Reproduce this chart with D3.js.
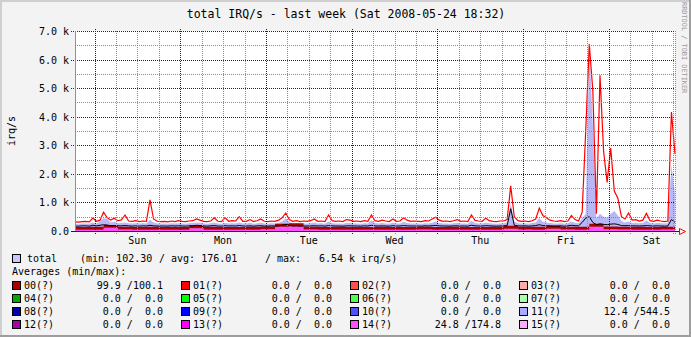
<!DOCTYPE html>
<html>
<head>
<meta charset="utf-8">
<script src="https://cdn.jsdelivr.net/npm/d3@7"></script>
<style>
  body { margin: 0; background: #f3f3f3; }
  svg { display: block; }
  text { font-family: "DejaVu Sans Mono", monospace; white-space: pre; }
</style>
</head>
<body>
<svg width="691" height="337"></svg>
<script>
// hourly samples, Sat 2008-05-17 18:32 .. Sat 2008-05-24 18:32 (169 values)
var totalMax = [
  320,310,330,340,320,450,340,380,660,470,380,450,360,390,560,350,340,360,330,350,340,1090,420,340,
  330,340,320,350,330,360,340,330,350,360,420,380,340,330,350,460,340,330,470,340,360,350,500,340,
  340,400,330,360,420,340,330,350,340,380,460,630,400,340,360,330,350,340,360,420,340,350,330,560,
  360,340,350,330,400,380,340,350,330,360,340,560,360,340,380,350,330,420,340,350,460,380,340,350,
  340,330,360,350,420,480,380,340,350,330,360,400,340,350,330,560,370,350,340,450,360,340,330,350,
  350,400,1580,500,360,340,350,330,360,420,800,540,460,380,350,340,360,330,350,540,400,350,650,3500,
  6540,4900,600,5450,2800,1700,2900,1400,1150,500,420,630,380,400,350,380,620,360,340,380,350,330,350,4160,2700
]
var totalArea = [
  250,240,260,260,250,300,270,330,450,430,300,320,270,280,300,270,260,270,260,270,260,390,300,260,
  260,260,250,270,260,270,260,250,270,280,300,290,260,250,270,300,260,250,290,260,270,260,300,260,
  260,290,250,270,290,260,250,270,260,280,330,450,320,260,270,250,260,260,270,300,260,270,250,330,
  270,260,260,250,280,280,260,260,250,270,260,380,280,260,280,260,250,290,260,260,320,280,260,260,
  260,250,270,260,290,330,280,260,260,250,270,280,260,260,250,360,280,260,260,300,270,260,250,260,
  270,300,990,330,270,260,270,250,280,300,450,320,300,280,260,260,270,250,270,330,290,270,450,600,
  6540,3700,450,600,500,450,600,700,550,350,300,330,280,290,270,280,380,280,260,280,270,260,270,2300,1300
]
var totalAvg = [
  170,170,180,180,170,200,180,200,220,210,180,190,180,180,190,180,170,180,170,180,175,200,180,175,
  175,175,170,180,175,180,175,170,180,180,200,190,175,170,180,190,175,170,185,175,180,175,190,175,
  175,180,170,180,185,175,170,180,175,180,200,230,200,175,180,170,175,175,180,185,175,180,170,190,
  180,175,175,170,180,180,175,175,170,180,175,200,180,175,180,175,170,185,175,175,190,180,175,175,
  175,170,180,175,185,195,180,175,175,170,180,180,175,175,170,200,180,175,175,185,180,175,170,175,
  180,190,780,200,180,175,180,170,180,190,220,190,185,180,175,175,180,170,180,200,185,180,300,450,
  500,300,220,250,230,220,240,250,230,190,185,190,180,180,175,180,190,180,175,180,175,170,175,400,300
]
// 4-hourly samples for the two bottom bands (43 values)
var irq14 = [40,45,110,50,40,45,40,40,100,45,40,40,45,60,150,170,50,40,45,40,40,45,40,40,50,40,45,40,40,45,80,50,45,80,50,45,150,60,50,45,40,50,100]
var irq00 = [100,100,99.9,100,100.1,100,100,99.9,100,100,100,100.1,100,100,99.9,100,100,100,100,100.1,100,100,99.9,100,100,100,100.1,100,100,100,99.9,100,100,100,100.1,100,100,99.9,100,100,100,100.1,100]

var irqNames = ['00','01','02','03','04','05','06','07','08','09','10','11','12','13','14','15']
var irqColors = ['#aa0000','#ff0000','#ff5050','#ffaaaa','#00aa00','#00ff00','#50ff50','#aaffaa',
                 '#0000aa','#0000ff','#5050ff','#aaaaff','#aa00aa','#ff00ff','#ff50ff','#ffaaff']
var irqMin = [99.9,0,0,0,0,0,0,0,0,0,0,12.4,0,0,24.8,0]
var irqMax = [100.1,0,0,0,0,0,0,0,0,0,0,544.5,0,0,174.8,0]

var yMajor = [0,1000,2000,3000,4000,5000,6000,7000]
var yMinor = [500,1500,2500,3500,4500,5500,6500]

var start = new Date(2008, 4, 17, 18, 32)
var end = new Date(2008, 4, 24, 18, 32)
var hour = 3600 * 1000

var svg = d3.select('svg')
var W = 691, H = 337

// frame
svg.append('rect').attr('width', W).attr('height', H).attr('fill', '#f3f3f3')
svg.append('path').attr('d', 'M0,0H691V2H2V337H0Z').attr('fill', '#cfcfcf')
svg.append('path').attr('d', 'M691,0V337H0V335H689V0Z').attr('fill', '#9e9e9e')

var x = d3.scaleTime().domain([start, end]).range([75, 675])
var y = d3.scaleLinear().domain([0, 7000]).range([231, 31])

svg.append('rect')
    .attr('x', 75).attr('y', 31)
    .attr('width', 600).attr('height', 200)
    .attr('fill', 'white')

var hourly = function(d, i){ return new Date(+start + i * hour) }
var fourly = function(d, i){ return new Date(+start + i * 4 * hour) }

// total area
svg.append('path')
    .datum(totalArea)
    .attr('fill', '#b8b8f6')
    .attr('d', d3.area()
        .x(function(d, i){ return x(hourly(d, i)) })
        .y0(y(0))
        .y1(function(d){ return y(d) }))

// bottom bands
svg.append('path')
    .datum(irq14)
    .attr('fill', '#ff50ff')
    .attr('d', d3.area().curve(d3.curveStepAfter)
        .x(function(d, i){ return x(fourly(d, i)) })
        .y0(y(0))
        .y1(function(d){ return y(d) }))

svg.append('path')
    .datum(irq00)
    .attr('fill', '#aa0000')
    .attr('d', d3.area().curve(d3.curveStepAfter)
        .x(function(d, i){ return x(fourly(d, i)) })
        .y0(function(d, i){ return y(irq14[i]) })
        .y1(function(d, i){ return y(irq14[i] + d) }))

// avg line
svg.append('path')
    .datum(totalAvg)
    .attr('fill', 'none')
    .attr('stroke', 'black')
    .attr('stroke-width', 1)
    .attr('d', d3.line()
        .x(function(d, i){ return x(hourly(d, i)) })
        .y(function(d){ return y(d) }))

// max line
svg.append('path')
    .datum(totalMax)
    .attr('fill', 'none')
    .attr('stroke', '#ff0000')
    .attr('stroke-width', 1.2)
    .attr('d', d3.line()
        .x(function(d, i){ return x(hourly(d, i)) })
        .y(function(d){ return y(d) }))

// grid
var grid = svg.append('g').attr('shape-rendering', 'crispEdges')
var minorX = d3.timeHour.every(6).range(start, end).filter(function(t){ return t.getHours() !== 0 })
minorX.push(end)
var majorX = d3.timeDay.range(start, end)

grid.selectAll('.ymin').data(yMinor).enter().append('line')
    .attr('x1', 75).attr('x2', 675)
    .attr('y1', function(d){ return Math.round(y(d)) + 0.5 })
    .attr('y2', function(d){ return Math.round(y(d)) + 0.5 })
    .attr('stroke', '#8c8c8c').attr('stroke-dasharray', '1,1')
grid.selectAll('.xmin').data(minorX).enter().append('line')
    .attr('x1', function(d){ return Math.round(x(d)) + 0.5 })
    .attr('x2', function(d){ return Math.round(x(d)) + 0.5 })
    .attr('y1', 31).attr('y2', 234)
    .attr('stroke', '#8c8c8c').attr('stroke-dasharray', '1,1')
grid.selectAll('.ymaj').data(yMajor.slice(1)).enter().append('line')
    .attr('x1', 71).attr('x2', 675)
    .attr('y1', function(d){ return Math.round(y(d)) + 0.5 })
    .attr('y2', function(d){ return Math.round(y(d)) + 0.5 })
    .attr('stroke', '#800000').attr('stroke-dasharray', '1,1')
grid.selectAll('.xmaj').data(majorX).enter().append('line')
    .attr('x1', function(d){ return Math.round(x(d)) + 0.5 })
    .attr('x2', function(d){ return Math.round(x(d)) + 0.5 })
    .attr('y1', 29).attr('y2', 235)
    .attr('stroke', '#800000').attr('stroke-dasharray', '1,1')

// axes
svg.append('line').attr('x1', 75.5).attr('x2', 75.5).attr('y1', 31).attr('y2', 231)
    .attr('stroke', '#909090').attr('shape-rendering', 'crispEdges')
svg.append('line').attr('x1', 71).attr('x2', 680).attr('y1', 231.5).attr('y2', 231.5)
    .attr('stroke', '#202020').attr('shape-rendering', 'crispEdges')
svg.append('path').attr('d', 'M679.5,228.5L685.5,231.5L679.5,234.5Z')
    .attr('fill', 'none').attr('stroke', '#ff0000')

svg.selectAll('.ylab').data(yMajor).enter().append('text')
    .attr('x', 69).attr('y', function(d){ return y(d) + 4 })
    .attr('text-anchor', 'end').attr('font-size', 10)
    .text(function(d){ return d === 0 ? '0.0' : (d / 1000).toFixed(1) + ' k' })

svg.selectAll('.xlab').data(majorX).enter().append('text')
    .attr('x', function(d){ return x(new Date(+d + 12 * hour)) })
    .attr('y', 244)
    .attr('text-anchor', 'middle').attr('font-size', 10)
    .text(function(d){ return d3.timeFormat('%a')(d) })

// titles
svg.append('text').attr('x', 346).attr('y', 18).attr('text-anchor', 'middle')
    .attr('font-size', 11.5).text('total IRQ/s - last week (Sat 2008-05-24 18:32)')
svg.append('text').attr('transform', 'translate(682,2) rotate(90)')
    .attr('font-size', 6.9).attr('fill', '#999').text('RRDTOOL / TOBI OETIKER')
svg.append('text').attr('transform', 'translate(15,131) rotate(-90)')
    .attr('text-anchor', 'middle').attr('font-size', 10).text('irq/s')

// legend
var lg = svg.append('g').attr('font-size', 10)
lg.append('rect').attr('x', 12.5).attr('y', 254.5).attr('width', 8).attr('height', 8)
    .attr('fill', '#c8c8ff').attr('stroke', 'black')
lg.append('text').attr('x', 27).attr('y', 262).text('total')
lg.append('text').attr('x', 80).attr('y', 262).text('(min: 102.30')
lg.append('text').attr('x', 159).attr('y', 262).text('/ avg: 176.01')
lg.append('text').attr('x', 265).attr('y', 262).text('/ max:')
lg.append('text').attr('x', 319).attr('y', 262).text('6.54 k irq/s)')
lg.append('text').attr('x', 12).attr('y', 275).text('Averages (min/max):')

var fmt = d3.format('5.1f')
var items = lg.selectAll('.it').data(irqNames).enter().append('g')
    .attr('transform', function(d, i){
        return 'translate(' + (12 + 169 * (i % 4)) + ',' + (281 + 13 * Math.floor(i / 4)) + ')'
    })
items.append('rect').attr('x', 0.5).attr('y', 0.5).attr('width', 8).attr('height', 8)
    .attr('fill', function(d, i){ return irqColors[i] }).attr('stroke', 'black')
items.append('text').attr('x', 12).attr('y', 8).text(function(d){ return d + '(?)' })
items.append('text').attr('x', 151).attr('y', 8).attr('text-anchor', 'end')
    .text(function(d, i){ return fmt(irqMin[i]) + ' /' + fmt(irqMax[i]) })
</script>
</body>
</html>
